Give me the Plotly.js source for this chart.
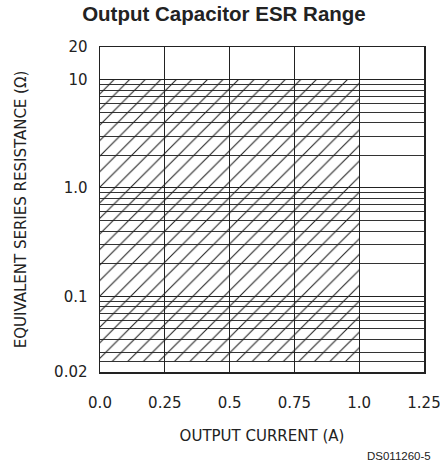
<!DOCTYPE html>
<html>
<head>
<meta charset="utf-8">
<script src="https://cdn.plot.ly/plotly-3.0.1.min.js"></script>
<style>html,body{margin:0;padding:0;background:#fff;}#chart{width:440px;height:465px;}</style>
</head>
<body>
<div id="chart"></div>
<script>
// Axis ticks
const currentTicks = [0, 0.25, 0.5, 0.75, 1.0, 1.25];
const currentTickText = ['0.0', '0.25', '0.5', '0.75', '1.0', '1.25'];
const esrTicks = [0.02, 0.1, 1, 10, 20];
const esrTickText = ['0.02', '0.1', '1.0', '10', '20'];
// Horizontal grid lines of the log chart
const esrGrid = [9, 8, 7, 6, 5, 4, 3, 2,
                 0.9, 0.8, 0.7, 0.6, 0.5, 0.4, 0.3, 0.2,
                 0.09, 0.08, 0.07, 0.06, 0.05, 0.04, 0.03, 0.025];
// Stable (hatched) region: output current 0..1.0 A, ESR 0.025..10 ohm
const regionCurrent = [0, 1.0];
const regionESR = [0.025, 10];

const hatch = {
  x: [regionCurrent[0], regionCurrent[1], regionCurrent[1], regionCurrent[0], regionCurrent[0]],
  y: [regionESR[0], regionESR[0], regionESR[1], regionESR[1], regionESR[0]],
  type: 'scatter', mode: 'lines', fill: 'toself',
  fillcolor: 'rgba(0,0,0,0)',
  fillpattern: {shape: '/', size: 11, solidity: 0.1, fgcolor: '#222', bgcolor: 'rgba(0,0,0,0)'},
  line: {width: 0, color: 'rgba(0,0,0,0)'},
  hoverinfo: 'skip', showlegend: false
};

const axisFont = {family: 'DejaVu Sans, sans-serif', size: 15, color: '#222'};

const layout = {
  width: 440, height: 465,
  margin: {l: 100, r: 16, t: 47, b: 93},
  paper_bgcolor: '#fff', plot_bgcolor: '#fff',
  showlegend: false,
  title: {text: '<b>Output Capacitor ESR Range</b>', x: 0.509, xanchor: 'center', y: 0.971, yanchor: 'middle',
          font: {family: 'Liberation Sans, Arial, sans-serif', size: 20.5, color: '#222'}},
  xaxis: {
    range: [0, 1.25], tickvals: currentTicks, ticktext: currentTickText,
    showgrid: true, gridcolor: '#222', gridwidth: 1, zeroline: false,
    showline: true, mirror: true, linecolor: '#222', linewidth: 1.5,
    ticks: '', ticklabelstandoff: 16, tickfont: axisFont, ticklabeloverflow: 'allow',
    title: {text: 'OUTPUT CURRENT (A)', font: axisFont, standoff: 20},
    fixedrange: true
  },
  yaxis: {
    type: 'log', range: [Math.log10(0.02), Math.log10(20)],
    tickvals: esrTicks, ticktext: esrTickText,
    showgrid: true, gridcolor: '#222', gridwidth: 1, zeroline: false,
    showline: true, mirror: true, linecolor: '#222', linewidth: 1.5,
    ticks: '', ticklabelstandoff: 8, tickfont: axisFont, ticklabeloverflow: 'allow',
    minor: {tickvals: esrGrid, showgrid: true, gridcolor: '#333', gridwidth: 1, ticks: ''},
    title: {text: 'EQUIVALENT SERIES RESISTANCE (\u03A9)', font: axisFont, standoff: 24},
    fixedrange: true
  },
  annotations: [{
    text: 'DS011260-5', xref: 'paper', yref: 'paper', x: 1.028, y: -0.235,
    xanchor: 'right', yanchor: 'top', showarrow: false,
    font: {family: 'Liberation Sans, Arial, sans-serif', size: 11.5, color: '#222'}
  }]
};

Plotly.newPlot('chart', [hatch], layout, {displayModeBar: false, staticPlot: true});
</script>
</body>
</html>
